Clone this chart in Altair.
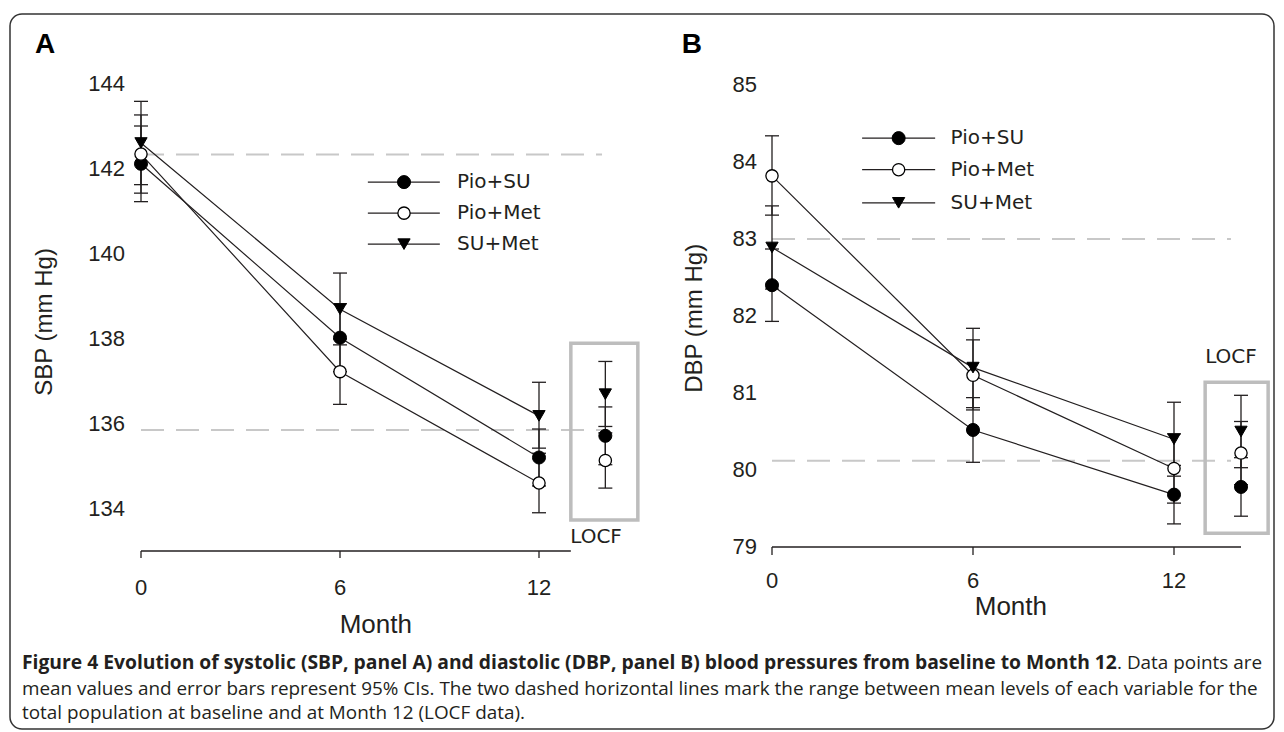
import altair as alt
import pandas as pd

W, H = 1284, 732

series_names = ["Pio+SU", "Pio+Met", "SU+Met"]
months = [0, 6, 12]
locf_month = 14

# ---- Panel A: SBP (mm Hg) ----
sbp_pio_su = [142.11, 138.02, 135.20]
sbp_pio_su_lo = [141.22, 137.22, 134.53]
sbp_pio_su_hi = [143.00, 138.82, 135.87]
sbp_pio_met = [142.34, 137.22, 134.60]
sbp_pio_met_lo = [141.42, 136.45, 133.90]
sbp_pio_met_hi = [143.26, 137.99, 135.30]
sbp_su_met = [142.60, 138.69, 136.18]
sbp_su_met_lo = [141.62, 137.85, 135.42]
sbp_su_met_hi = [143.58, 139.54, 136.97]
sbp_locf = [135.71, 135.13, 136.69]
sbp_locf_lo = [135.03, 134.48, 135.93]
sbp_locf_hi = [136.39, 135.78, 137.46]
sbp_ref = [142.33, 135.85]
sbp_ticks = [144, 142, 140, 138, 136, 134]

# ---- Panel B: DBP (mm Hg) ----
dbp_pio_su = [82.40, 80.52, 79.68]
dbp_pio_su_lo = [81.93, 80.10, 79.30]
dbp_pio_su_hi = [82.87, 80.94, 80.06]
dbp_pio_met = [83.82, 81.23, 80.02]
dbp_pio_met_lo = [83.31, 80.78, 79.57]
dbp_pio_met_hi = [84.34, 81.69, 80.47]
dbp_su_met = [82.89, 81.33, 80.40]
dbp_su_met_lo = [82.35, 80.81, 79.92]
dbp_su_met_hi = [83.43, 81.84, 80.88]
dbp_locf = [79.78, 80.22, 80.50]
dbp_locf_lo = [79.40, 79.81, 80.03]
dbp_locf_hi = [80.16, 80.63, 80.97]
dbp_ref = [83.00, 80.12]
dbp_ticks = [85, 84, 83, 82, 81, 80, 79]

month_ticks = [0, 6, 12]

caption_bold = ("Figure 4 Evolution of systolic (SBP, panel A) and diastolic (DBP, panel B) "
                "blood pressures from baseline to Month 12")
caption_rest = ". Data points are"
caption_line2 = ("mean values and error bars represent 95% CIs. The two dashed horizontal lines "
                 "mark the range between mean levels of each variable for the")
caption_line3 = "total population at baseline and at Month 12 (LOCF data)."

TICK_FONT = "Liberation Sans"
LEG_FONT = "DejaVu Sans"
CAP_FONT = "Open Sans"
INK = "#231f20"


def build_df(means, los, his, locf, locf_lo, locf_hi):
    rows = []
    for s, m, lo, hi, lm, llo, lhi in zip(series_names, means, los, his, locf, locf_lo, locf_hi):
        for mo, v, a, b in zip(months, m, lo, hi):
            rows.append(dict(series=s, month=mo, mean=v, lo=a, hi=b, locf=False))
        rows.append(dict(series=s, month=locf_month, mean=lm, lo=llo, hi=lhi, locf=True))
    return pd.DataFrame(rows)


marker_style = {
    "Pio+SU": dict(shape="circle", size=170, fill="black", stroke="black", strokeWidth=1),
    "Pio+Met": dict(shape="circle", size=150, fill="white", stroke="black", strokeWidth=1.3),
    "SU+Met": dict(shape="triangle-down", size=150, fill="black", stroke="black", strokeWidth=1),
}


def panel(df, cfg):
    xs = alt.Scale(domain=[0, 12], range=cfg["xr"], nice=False, zero=False)
    ys = alt.Scale(domain=cfg["yd"], range=cfg["yr"], nice=False, zero=False)

    def X(f):
        return alt.X(f, type="quantitative", scale=xs, axis=None)

    def Y(f):
        return alt.Y(f, type="quantitative", scale=ys, axis=None)

    layers = []
    # dashed reference lines
    ref_df = pd.DataFrame({"ref": cfg["ref"], "x0": 0, "x1": cfg["ref_end"]})
    layers.append(alt.Chart(ref_df).mark_rule(color="#c8c8c8", strokeWidth=2, strokeDash=[23, 12]).encode(
        x=X("x0"), x2=alt.X2("x1"), y=Y("ref")))
    # LOCF box
    box_df = pd.DataFrame({"bx0": [cfg["box"][0]], "bx1": [cfg["box"][1]],
                           "by0": [cfg["box"][2]], "by1": [cfg["box"][3]]})
    layers.append(alt.Chart(box_df).mark_rect(fill="white", fillOpacity=0, stroke="#bdbdbd", strokeWidth=3.5).encode(
        x=X("bx0"), x2=alt.X2("bx1"), y=Y("by0"), y2=alt.Y2("by1")))
    # x axis line + ticks + labels
    ax_df = pd.DataFrame({"a0": [0], "a1": [cfg["axis_end"]], "ay": [cfg["yd"][0]]})
    layers.append(alt.Chart(ax_df).mark_rule(color=INK, strokeWidth=1.3).encode(
        x=X("a0"), x2=alt.X2("a1"), y=Y("ay")))
    tk_df = pd.DataFrame({"t": month_ticks, "ty": cfg["yd"][0]})
    layers.append(alt.Chart(tk_df).mark_point(shape="M0,0L0,1", size=cfg["tick_size"], filled=False,
                                              stroke=INK, strokeWidth=1.3, opacity=1).encode(
        x=X("t"), y=Y("ty")))
    layers.append(alt.Chart(tk_df).mark_text(font=TICK_FONT, fontSize=22, color=INK, baseline="middle",
                                             align="center", dy=cfg["xlab_dy"]).encode(
        x=X("t"), y=Y("ty"), text=alt.Text("t:Q")))
    # y tick labels
    yt_df = pd.DataFrame({"v": cfg["yticks"], "vx": 0})
    layers.append(alt.Chart(yt_df).mark_text(font=TICK_FONT, fontSize=22, color=INK, baseline="middle",
                                             align="right", dx=cfg["ylab_dx"]).encode(
        x=X("vx"), y=Y("v"), text=alt.Text("v:Q")))
    # error bars and caps
    layers.append(alt.Chart(df).mark_rule(color=INK, strokeWidth=1.3).encode(
        x=X("month"), y=Y("lo"), y2=alt.Y2("hi")))
    for f in ["lo", "hi"]:
        layers.append(alt.Chart(df).mark_point(shape="M-1,0L1,0", size=196, filled=False, stroke=INK,
                                               strokeWidth=1.3, opacity=1).encode(
            x=X("month"), y=Y(f)))
    # lines
    for s in series_names:
        sub = df[(df.series == s) & (~df.locf)]
        layers.append(alt.Chart(sub).mark_line(color=INK, strokeWidth=1.2).encode(
            x=X("month"), y=Y("mean")))
    # markers
    for s in series_names:
        sub = df[df.series == s]
        layers.append(alt.Chart(sub).mark_point(filled=True, opacity=1, **marker_style[s]).encode(
            x=X("month"), y=Y("mean")))
    # legend
    lg = cfg["legend"]
    for s, ly in zip(series_names, lg["rows"]):
        ldf = pd.DataFrame({"l0": [lg["x0"]], "l1": [lg["x1"]], "lm": [lg["xm"]], "lt": [lg["xt"]],
                            "ly": [ly], "name": [s]})
        layers.append(alt.Chart(ldf).mark_rule(color=INK, strokeWidth=1.2).encode(
            x=X("l0"), x2=alt.X2("l1"), y=Y("ly")))
        layers.append(alt.Chart(ldf).mark_point(filled=True, opacity=1, **marker_style[s]).encode(
            x=X("lm"), y=Y("ly")))
        layers.append(alt.Chart(ldf).mark_text(font=LEG_FONT, fontSize=20, color=INK, align="left",
                                               baseline="middle").encode(
            x=X("lt"), y=Y("ly"), text=alt.Text("name:N")))
    # LOCF label, Month title, y title, panel letter
    tx = pd.DataFrame([dict(x=cfg["locf_lab"][0], y=cfg["locf_lab"][1], t="LOCF")])
    layers.append(alt.Chart(tx).mark_text(font=LEG_FONT, fontSize=20, color=INK, align="center",
                                          baseline="middle").encode(x=X("x"), y=Y("y"), text=alt.Text("t:N")))
    mt = pd.DataFrame([dict(x=cfg["month_lab"][0], y=cfg["month_lab"][1], t="Month")])
    layers.append(alt.Chart(mt).mark_text(font=TICK_FONT, fontSize=26, color=INK, align="center",
                                          baseline="middle").encode(x=X("x"), y=Y("y"), text=alt.Text("t:N")))
    yt = pd.DataFrame([dict(x=cfg["ytitle"][0], y=cfg["ytitle"][1], t=cfg["ytitle"][2])])
    layers.append(alt.Chart(yt).mark_text(font=TICK_FONT, fontSize=24, color=INK, align="center",
                                          baseline="middle", angle=270).encode(
        x=X("x"), y=Y("y"), text=alt.Text("t:N")))
    pl = pd.DataFrame([dict(x=cfg["letter"][0], y=cfg["letter"][1], t=cfg["letter"][2])])
    layers.append(alt.Chart(pl).mark_text(font=TICK_FONT, fontSize=28, fontWeight="bold", color="black",
                                          align="center", baseline="middle").encode(
        x=X("x"), y=Y("y"), text=alt.Text("t:N")))
    return alt.layer(*layers)


dfA = build_df([sbp_pio_su, sbp_pio_met, sbp_su_met],
               [sbp_pio_su_lo, sbp_pio_met_lo, sbp_su_met_lo],
               [sbp_pio_su_hi, sbp_pio_met_hi, sbp_su_met_hi],
               sbp_locf, sbp_locf_lo, sbp_locf_hi)
dfB = build_df([dbp_pio_su, dbp_pio_met, dbp_su_met],
               [dbp_pio_su_lo, dbp_pio_met_lo, dbp_su_met_lo],
               [dbp_pio_su_hi, dbp_pio_met_hi, dbp_su_met_hi],
               dbp_locf, dbp_locf_lo, dbp_locf_hi)

cfgA = dict(
    xr=[141, 539], yd=[133, 144], yr=[551, 83.5],
    ref=sbp_ref, ref_end=13.9,
    box=[12.96, 14.98, 133.73, 137.89],
    axis_end=12.96, tick_size=196, xlab_dy=37, ylab_dx=-16,
    yticks=sbp_ticks,
    legend=dict(rows=[141.68, 140.95, 140.22], x0=6.84, x1=9.01, xm=7.93, xt=9.53),
    locf_lab=(13.72, 133.33),
    month_lab=(7.08, 131.25),
    ytitle=(-2.89, 138.39, "SBP (mm Hg)"),
    letter=(-2.89, 144.91, "A"),
)
cfgB = dict(
    xr=[772, 1174], yd=[79, 85], yr=[547, 85],
    ref=dbp_ref, ref_end=13.7,
    box=[12.93, 14.81, 79.18, 81.14],
    axis_end=14.0, tick_size=256, xlab_dy=34, ylab_dx=-15,
    yticks=dbp_ticks,
    legend=dict(rows=[84.31, 83.90, 83.47], x0=2.69, x1=4.87, xm=3.78, xt=5.33),
    locf_lab=(13.7, 81.47),
    month_lab=(7.13, 78.22),
    ytitle=(-2.30, 81.97, "DBP (mm Hg)"),
    letter=(-2.39, 85.52, "B"),
)

one = pd.DataFrame({"k": [0]})
frame = alt.Chart(one).mark_rect(fill="white", fillOpacity=0, stroke="#333333", strokeWidth=1.5,
                                 cornerRadius=12).encode(
    x=alt.value(10), x2=alt.value(1274), y=alt.value(14), y2=alt.value(729))
cap1 = alt.Chart(one).mark_text(text=caption_bold, font=CAP_FONT, fontSize=19.3, fontWeight="bold",
                                color=INK, align="left", baseline="middle").encode(
    x=alt.value(22), y=alt.value(663))
cap1b = alt.Chart(one).mark_text(text=caption_rest, font=CAP_FONT, fontSize=18.9, color=INK,
                                 align="right", baseline="middle").encode(
    x=alt.value(1262), y=alt.value(663))
cap2 = alt.Chart(one).mark_text(text=caption_line2, font=CAP_FONT, fontSize=18.9, color=INK,
                                align="left", baseline="middle").encode(
    x=alt.value(22), y=alt.value(689))
cap3 = alt.Chart(one).mark_text(text=caption_line3, font=CAP_FONT, fontSize=18.9, color=INK,
                                align="left", baseline="middle").encode(
    x=alt.value(22), y=alt.value(713))

chart = alt.layer(
    frame, cap1, cap1b, cap2, cap3, panel(dfA, cfgA), panel(dfB, cfgB)
).resolve_scale(x="independent", y="independent").properties(
    width=W, height=H, padding=0, autosize=alt.AutoSizeParams(type="none")
).configure_view(stroke=None)

chart.save("out.html", embed_options={"renderer": "svg", "actions": False})
